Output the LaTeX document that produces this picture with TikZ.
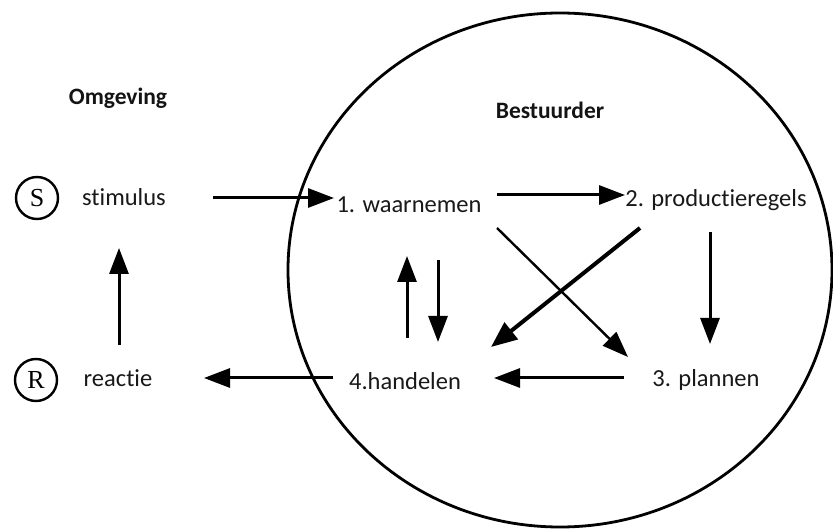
\documentclass[tikz,border=0pt]{standalone}
\usepackage{fontspec}
\setmainfont{Carlito}[Ligatures={NoCommon}]
\newfontfamily\srfont{Liberation Serif}
\usetikzlibrary{arrows.meta}
\begin{document}
\begin{tikzpicture}[x=1pt,y=-1pt,
  lbl/.style={font=\fontsize{24.5}{28}\selectfont, inner sep=0pt, text=black!90},
  ttl/.style={font=\fontsize{23.5}{28}\selectfont\bfseries, inner sep=0pt, text=black!92},
  sr/.style={circle, draw, line width=2.4pt, minimum size=42pt, inner sep=0pt, font=\fontsize{26}{28}\selectfont\srfont},
  arr/.style={line width=3pt, -{Triangle[length=26pt,width=19pt]}},
  arrthin/.style={line width=2.4pt, -{Triangle[length=26pt,width=19pt]}},
  arrthick/.style={line width=4pt, -{Triangle[length=26pt,width=21pt]}}
]
\useasboundingbox (0,0) rectangle (833,529);
\fill[white] (0,0) rectangle (833,529);
% driver boundary
\draw[line width=2.8pt] (560,270) ellipse [x radius=272, y radius=257];
% titles
\node[ttl] (omg) at (118,98) {Omgeving};
\node[ttl] (best) at (550,110) {Bestuurder};
% environment
\node[sr] (S) at (37,198) {S};
\node[sr] (R) at (36,380) {R};
\node[lbl] (stim) at (124,197) {stimulus};
\node[lbl] (reac) at (118,378) {reactie};
% driver stages
\node[lbl] (w) at (409,205) {1. waarnemen};
\node[lbl] (p) at (716,200) {2. productieregels};
\node[lbl] (h) at (405,381) {4.handelen};
\node[lbl] (pl) at (706,380) {3. plannen};
% arrow end points
\coordinate (a1s) at (213,198); \coordinate (a1e) at (334,198);
\coordinate (a2s) at (497,195); \coordinate (a2e) at (625,195);
\coordinate (a3s) at (119,345); \coordinate (a3e) at (119,248);
\coordinate (a4s) at (333,378); \coordinate (a4e) at (204,378);
\coordinate (a5s) at (407,338); \coordinate (a5e) at (407,256);
\coordinate (a6s) at (438,260); \coordinate (a6e) at (438,342);
\coordinate (a7s) at (640,228); \coordinate (a7e) at (491,347);
\coordinate (a8s) at (497,228); \coordinate (a8e) at (628,357);
\coordinate (a9s) at (710,232); \coordinate (a9e) at (710,344);
\coordinate (a10s) at (624,378); \coordinate (a10e) at (494,378);
% connectors
\draw[arr] (a1s) -- (a1e);
\draw[arr] (a2s) -- (a2e);
\draw[arr] (a3s) -- (a3e);
\draw[arr] (a4s) -- (a4e);
\draw[arr] (a5s) -- (a5e);
\draw[arr] (a6s) -- (a6e);
\draw[arrthick] (a7s) -- (a7e);
\draw[arrthin] (a8s) -- (a8e);
\draw[arr] (a9s) -- (a9e);
\draw[arr] (a10s) -- (a10e);
\end{tikzpicture}
\end{document}
